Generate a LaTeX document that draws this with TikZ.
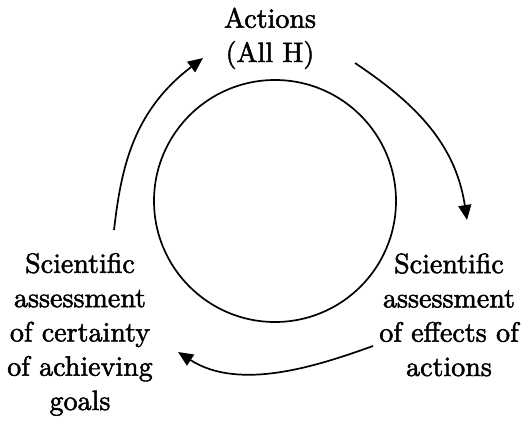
\documentclass[tikz,border=0pt]{standalone}
\usepackage{fontspec}
\setmainfont{lmroman10-regular.otf}[FakeBold=1.8]
\usetikzlibrary{arrows.meta}
\begin{document}
\begin{tikzpicture}[x=1pt,y=-1pt,
  lbl/.style={align=center,inner sep=0pt,
    font=\fontsize{28}{34.3}\selectfont},
  flow/.style={line width=1.7pt,-{Triangle[length=15pt,width=13pt]}},
  ring/.style={line width=1.7pt}]
  \useasboundingbox (0,0) rectangle (529,423);

  % labels of the three stages (base = baseline of the last line)
  \node[lbl,anchor=base] (top)   at (270,62)  {Actions\\(All H)};
  \node[lbl,anchor=base] (right) at (449,376) {Scientific\\assessment\\of effects of\\actions};
  \node[lbl,anchor=base] (left)  at (80,410)  {Scientific\\assessment\\of certainty\\of achieving\\goals};

  % central circle
  \node[ring,draw,circle,minimum size=242pt,inner sep=0pt] (ring) at (275,201) {};

  % end points of the cycle arrows
  \coordinate (l0) at (114,230);
  \coordinate (t0) at (203,58);
  \coordinate (t1) at (355,63);
  \coordinate (r0) at (467,220);
  \coordinate (r1) at (373,346);
  \coordinate (l1) at (178,352);

  \draw[flow] (l0) .. controls (121,170) and (132,112) .. (t0);
  \draw[flow] (t1) .. controls (410,100) and (455,140) .. (r0);
  \draw[flow] (r1) .. controls (320,365) and (240,392) .. (l1);
\end{tikzpicture}
\end{document}
